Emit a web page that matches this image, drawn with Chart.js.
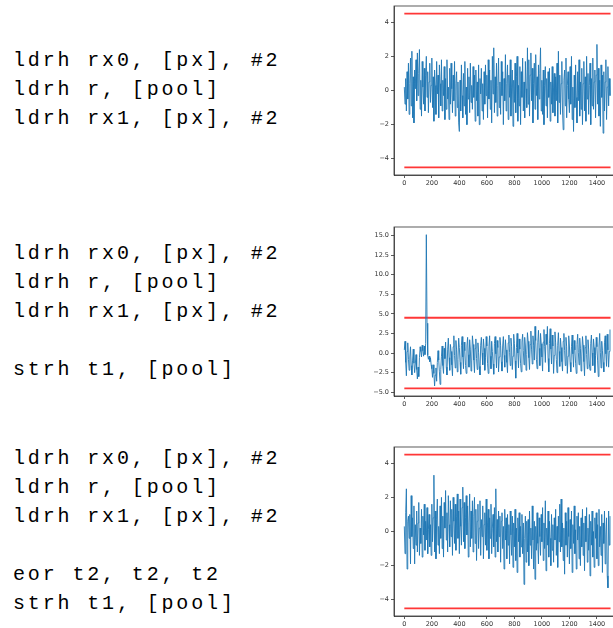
<!DOCTYPE html>
<html>
<head>
<meta charset="utf-8">
<script src="https://cdn.jsdelivr.net/npm/chart.js@4.4.1/dist/chart.umd.min.js"></script>
<style>
  html, body { margin: 0; padding: 0; background: #fff; }
  #page { position: relative; width: 613px; height: 628px; overflow: hidden; background: #fff; }
  pre.code {
    position: absolute; left: 13px; margin: 0;
    font-family: "Liberation Mono", "DejaVu Sans Mono", monospace;
    font-size: 20px; line-height: 29px; letter-spacing: 2.85px; color: #000;
  }
  canvas { position: absolute; left: 360px; }
</style>
</head>
<body>
<div id="page">
<pre class="code" style="top:46px">ldrh rx0, [px], #2
ldrh r, [pool]
ldrh rx1, [px], #2</pre>
<pre class="code" style="top:239px">ldrh rx0, [px], #2
ldrh r, [pool]
ldrh rx1, [px], #2

strh t1, [pool]</pre>
<pre class="code" style="top:444px">ldrh rx0, [px], #2
ldrh r, [pool]
ldrh rx1, [px], #2

eor t2, t2, t2
strh t1, [pool]</pre>
<canvas id="chart1" width="270" height="192" style="top:0px"></canvas>
<canvas id="chart2" width="270" height="193" style="top:220px"></canvas>
<canvas id="chart3" width="270" height="193" style="top:440px"></canvas>
</div>
<script>
// samples are read every 5 steps along x (0 .. 1495)
var sampleStep = 5;

var trace1 = [
0.2,-0.8,0.7,-1.2,1.1,-0.5,1.6,-1.4,0.4,1.9,-0.9,2.3,-1.6,0.8,-1.9,1.2,0.1,1.8,-0.6,2.2,
-0.3,1.0,2.4,-1.1,0.6,-1.5,1.7,0.2,-0.8,1.3,-1.2,0.9,2.0,-0.4,1.1,-1.3,0.5,1.6,-0.7,0.3,
1.9,-1.0,0.8,-1.8,1.2,0.3,-1.4,1.7,-0.2,0.9,-1.6,1.5,0.4,-0.9,1.8,-1.2,0.6,-0.3,1.4,-1.7,
0.7,-1.1,1.8,-0.5,0.2,-1.7,1.3,-0.8,1.6,0.1,-1.3,0.9,-0.6,1.7,-1.5,0.4,1.1,-1.0,0.5,-1.9,
-2.4,0.6,-1.2,1.5,-0.3,-1.6,1.0,-0.9,1.7,-1.4,0.2,-2.0,1.3,-0.5,0.8,-1.3,1.6,-0.7,0.3,-1.1,
1.4,-0.4,0.9,-1.8,1.2,-0.6,0.5,-1.5,1.5,-2.0,0.7,-0.2,1.3,-1.2,0.4,-1.7,1.1,-0.8,1.5,-0.3,
0.9,-1.6,1.8,-0.5,1.2,-1.1,0.6,-1.9,2.0,-0.2,2.5,-1.3,0.8,-0.7,1.6,-1.5,0.3,1.9,-1.0,0.5,
-1.4,1.7,-0.3,1.1,-2.0,0.7,-0.6,2.1,-1.2,0.4,1.5,-1.7,0.9,-0.4,1.8,-1.5,0.2,1.2,-2.1,0.6,
-0.7,1.6,-1.3,0.8,2.0,-1.8,0.3,-0.9,1.4,-2.0,1.1,-0.4,1.9,-1.2,0.5,-1.6,1.7,0.1,-1.0,2.5,
-0.8,1.8,-1.5,0.9,2.2,-0.6,1.3,-1.9,0.4,1.6,-1.1,2.1,-0.3,0.8,-1.7,1.5,-0.5,1.0,2.5,-1.2,
0.6,-1.4,1.2,-2.0,0.3,1.4,-0.9,0.7,-1.6,1.1,-0.4,1.3,-1.8,0.5,-0.8,1.4,-1.3,0.2,1.0,-1.5,
0.8,-0.6,1.6,-1.9,2.3,-0.7,0.9,-1.4,0.4,1.7,-1.2,-2.3,0.6,1.2,-0.9,1.9,-1.6,0.3,1.1,-0.5,
-1.3,1.4,-0.8,2.0,-1.7,0.2,-2.4,0.9,-1.0,1.5,-0.4,-1.9,1.1,-0.6,1.8,-1.5,0.5,-1.1,1.3,-2.0,
0.4,1.7,-1.2,0.8,-1.8,2.0,-0.5,1.0,-1.4,0.3,1.6,-2.0,0.7,-0.9,1.9,-1.1,0.5,1.2,-1.6,0.9,
2.7,-0.8,1.3,-1.5,0.6,-2.1,1.5,-0.4,0.9,-2.5,1.1,-1.2,0.5,1.8,-1.7,0.2,1.4,-0.9,0.7,-0.3
];

var trace2 = [
0.4,1.5,-1.2,-2.9,0.2,1.3,-0.8,-2.2,-0.5,0.8,-1.6,-2.8,-0.9,0.5,-1.3,-2.5,-1.4,-0.2,-2.1,-3.3,
-1.8,-3.0,-0.6,0.8,0.2,-0.5,1.0,0.3,-0.4,0.9,-0.2,1.2,15.1,3.8,-0.3,-0.8,-0.4,-1.1,-0.6,-1.5,
-2.0,-3.1,-1.5,-2.6,-4.2,-2.8,-1.9,-3.6,-1.2,0.3,-0.9,-2.4,-4.0,-2.1,-0.4,0.9,-1.6,-2.6,0.6,-0.7,
1.4,-1.8,-2.8,0.5,1.9,-0.6,-2.2,1.1,0.2,-1.5,-2.9,0.8,2.2,-0.3,-1.9,1.6,0.4,-2.4,-0.8,1.9,
0.7,-1.2,-2.7,1.0,2.1,-0.5,-2.0,1.4,0.3,-1.6,-2.6,0.9,2.0,-0.2,-1.8,1.7,0.5,-2.3,-1.0,2.2,
1.1,-0.9,-2.5,0.6,1.8,-0.7,-2.1,1.3,0.1,-1.7,-2.8,1.0,2.0,0.0,-1.5,1.8,0.6,-2.2,-0.6,2.1,
0.9,-1.3,-2.6,0.8,2.2,-0.4,-2.0,1.5,0.2,-1.4,-2.7,1.2,2.1,-0.1,-1.9,1.6,0.7,-2.4,-0.5,2.0,
1.0,-1.1,-2.3,0.9,2.1,-0.3,-1.8,1.7,0.4,-1.2,-2.5,1.3,2.3,0.1,-1.6,1.9,0.8,-2.1,-0.4,2.4,
1.2,-1.0,-3.2,0.7,2.5,0.0,-1.9,1.8,0.5,-1.3,-2.4,1.4,2.4,0.3,-1.5,2.0,0.9,-2.2,-0.2,2.6,
1.5,-0.6,-2.1,1.1,2.8,0.4,-1.4,2.2,1.0,-0.9,3.4,1.6,-0.8,-2.0,1.3,2.9,0.6,-1.6,2.5,1.2,
-0.5,-2.3,1.4,3.0,0.8,-1.2,2.4,1.1,3.4,-0.7,-2.4,1.2,3.1,0.5,-1.4,2.3,0.9,-2.6,-0.3,2.7,
1.3,-0.8,-2.5,1.0,2.6,0.2,-1.7,1.9,0.7,-1.1,-2.3,1.5,2.5,0.3,-1.6,2.0,0.8,-2.6,-0.4,2.2,
0.9,-1.2,-2.4,0.8,2.3,-0.1,-1.8,1.6,0.4,-1.3,-2.6,1.1,2.4,0.1,-1.5,1.9,0.6,-2.3,-0.5,2.1,
1.0,-1.1,-2.9,0.7,2.2,-0.2,-2.0,1.7,0.5,-1.4,-2.2,1.2,2.3,0.0,-1.6,1.8,0.7,-2.5,-0.3,2.0,
0.8,-1.0,-3.0,0.9,2.5,0.1,-1.9,1.5,0.3,-1.2,-2.4,1.3,2.2,-0.1,-1.7,2.4,0.4,-1.8,0.2,3.0
];

var trace3 = [
0.3,-1.3,1.1,2.5,-2.2,0.6,0.9,-0.4,1.0,-1.9,2.1,-0.3,0.8,-1.0,1.5,-1.9,0.4,-0.8,1.2,-1.2,
0.5,1.7,-1.4,0.2,-0.7,1.3,-1.5,0.9,-0.2,1.6,-1.1,0.6,-0.5,1.4,-1.3,0.1,1.0,-0.9,0.4,-1.4,
1.6,-0.6,0.8,3.3,-1.2,1.2,-1.6,0.7,1.9,-0.8,0.3,-1.3,1.5,-0.4,2.0,-1.0,0.9,-1.5,1.7,0.2,
2.4,-0.5,1.1,-1.2,2.1,0.4,-0.9,1.8,-0.3,1.3,-1.4,2.0,0.6,-0.7,1.6,-1.1,0.9,2.2,-0.4,1.2,
-1.3,1.9,0.3,-0.8,1.4,2.6,-0.6,1.7,-1.0,0.8,2.1,-0.2,1.5,-1.5,0.5,2.2,-0.9,1.2,-0.4,1.8,
-1.2,0.9,2.0,-0.7,1.3,-1.7,0.6,1.6,-1.0,0.2,1.8,-1.4,0.7,-0.3,1.5,-1.6,0.4,1.1,-0.8,1.9,
-1.1,0.5,1.3,-1.6,0.8,-0.4,1.6,-1.3,0.2,1.0,-0.9,1.4,-1.5,2.5,-0.6,0.7,-1.2,1.2,-0.3,0.9,
-1.8,0.6,1.1,-1.0,0.3,-2.2,1.3,-0.5,0.8,-1.6,1.0,-0.8,0.4,-1.9,1.2,-0.2,-1.4,0.9,-2.1,0.5,
-0.9,1.3,-1.7,0.2,-2.4,0.8,-0.6,1.1,-1.5,0.3,-0.9,1.0,-1.3,0.5,-3.1,-0.4,0.9,-1.8,0.6,-1.2,
0.7,-2.0,1.2,-0.8,0.2,-1.6,1.5,-0.5,-2.2,0.6,-2.8,0.3,-1.1,1.1,-0.7,-1.9,0.8,-0.3,-1.4,1.0,
-0.6,1.4,-1.7,0.5,-1.0,1.8,-2.3,0.2,-0.8,1.2,-1.5,0.6,-0.4,-2.0,1.0,-1.1,0.4,-1.8,0.8,-0.5,
1.3,-1.4,0.3,-2.1,0.9,-0.6,1.6,-1.2,1.9,-0.9,0.5,-1.7,0.2,-2.5,1.1,-0.8,0.6,-1.5,1.4,-0.3,
-1.9,0.7,-1.0,1.2,-2.4,0.4,-0.7,1.5,-1.3,0.1,-2.2,0.9,-0.5,1.1,-1.6,0.3,-2.0,0.8,-0.9,1.3,
-1.4,0.5,-2.3,0.9,-0.6,1.4,-1.8,0.2,-1.1,1.0,-2.6,0.6,-0.8,1.2,-1.5,0.0,-2.1,0.8,-0.4,1.1,
-1.6,0.4,-2.0,1.3,-0.9,0.3,-1.4,1.0,-2.4,0.5,-0.7,1.2,-1.9,-0.2,0.8,-2.6,-3.3,1.2,-0.8,0.9
];

// threshold lines drawn in red across the full run
var limitLevels = [4.5, -4.5];
var limitStart = 0;
var limitEnd = 1499;

var xTicks = [0, 200, 400, 600, 800, 1000, 1200, 1400];
var yTicksSmall = [-4, -2, 0, 2, 4];
var yTicksWide = [-5.0, -2.5, 0.0, 2.5, 5.0, 7.5, 10.0, 12.5, 15.0];

function minusSign(s) {
    return s.charAt(0) == '-' ? '\u2212' + s.slice(1) : s;
}

// box around the plotting area, like the matplotlib spines
var frame = {
    id: 'frame',
    afterDraw: function (chart) {
        var a = chart.chartArea;
        var ctx = chart.ctx;
        ctx.save();
        ctx.strokeStyle = '#333';
        ctx.lineWidth = 0.8;
        ctx.strokeRect(a.left, a.top, a.right - a.left, a.bottom - a.top);
        ctx.restore();
    }
};

function drawTrace(id, trace, yMin, yMax, yTicks, digits, padTop) {
    var points = trace.map(function (v, i) { return { x: i * sampleStep, y: v }; });
    var datasets = [{
        data: points,
        borderColor: '#1f77b4',
        borderWidth: 0.9,
        pointRadius: 0,
        tension: 0
    }];
    limitLevels.forEach(function (lvl) {
        datasets.push({
            data: [{ x: limitStart, y: lvl }, { x: limitEnd, y: lvl }],
            borderColor: 'rgba(255, 20, 20, 0.85)',
            borderWidth: 1.8,
            pointRadius: 0
        });
    });

    var tickFont = { family: 'DejaVu Sans', size: 6.5 };
    new Chart(document.getElementById(id), {
        type: 'line',
        data: { datasets: datasets },
        plugins: [frame],
        options: {
            responsive: false,
            animation: false,
            layout: { padding: { top: padTop, right: 9, bottom: 0, left: 0 } },
            plugins: { legend: { display: false }, tooltip: { enabled: false } },
            scales: {
                x: {
                    type: 'linear', min: -75, max: 1575,
                    afterFit: function (s) { s.height = 17; },
                    afterBuildTicks: function (s) { s.ticks = xTicks.map(function (v) { return { value: v }; }); },
                    ticks: { font: tickFont, color: '#333', padding: 1, maxRotation: 0,
                        callback: function (v) { return String(v); } },
                    grid: { drawOnChartArea: false, drawTicks: true, tickLength: 3, color: '#333', lineWidth: 0.8 },
                    border: { display: true, color: '#333', width: 0.8 }
                },
                y: {
                    type: 'linear', min: yMin, max: yMax,
                    afterFit: function (s) { s.width = 34; },
                    afterBuildTicks: function (s) { s.ticks = yTicks.map(function (v) { return { value: v }; }); },
                    ticks: { font: tickFont, color: '#333', padding: 2,
                        callback: function (v) { return minusSign(v.toFixed(digits)); } },
                    grid: { drawOnChartArea: false, drawTicks: true, tickLength: 3, color: '#333', lineWidth: 0.8 },
                    border: { display: true, color: '#333', width: 0.8 }
                }
            }
        }
    });
}

drawTrace('chart1', trace1, -4.95, 4.95, yTicksSmall, 0, 6);
drawTrace('chart2', trace2, -5.48, 16.08, yTicksWide, 1, 7);
drawTrace('chart3', trace3, -4.95, 4.95, yTicksSmall, 0, 7);
</script>
</body>
</html>
